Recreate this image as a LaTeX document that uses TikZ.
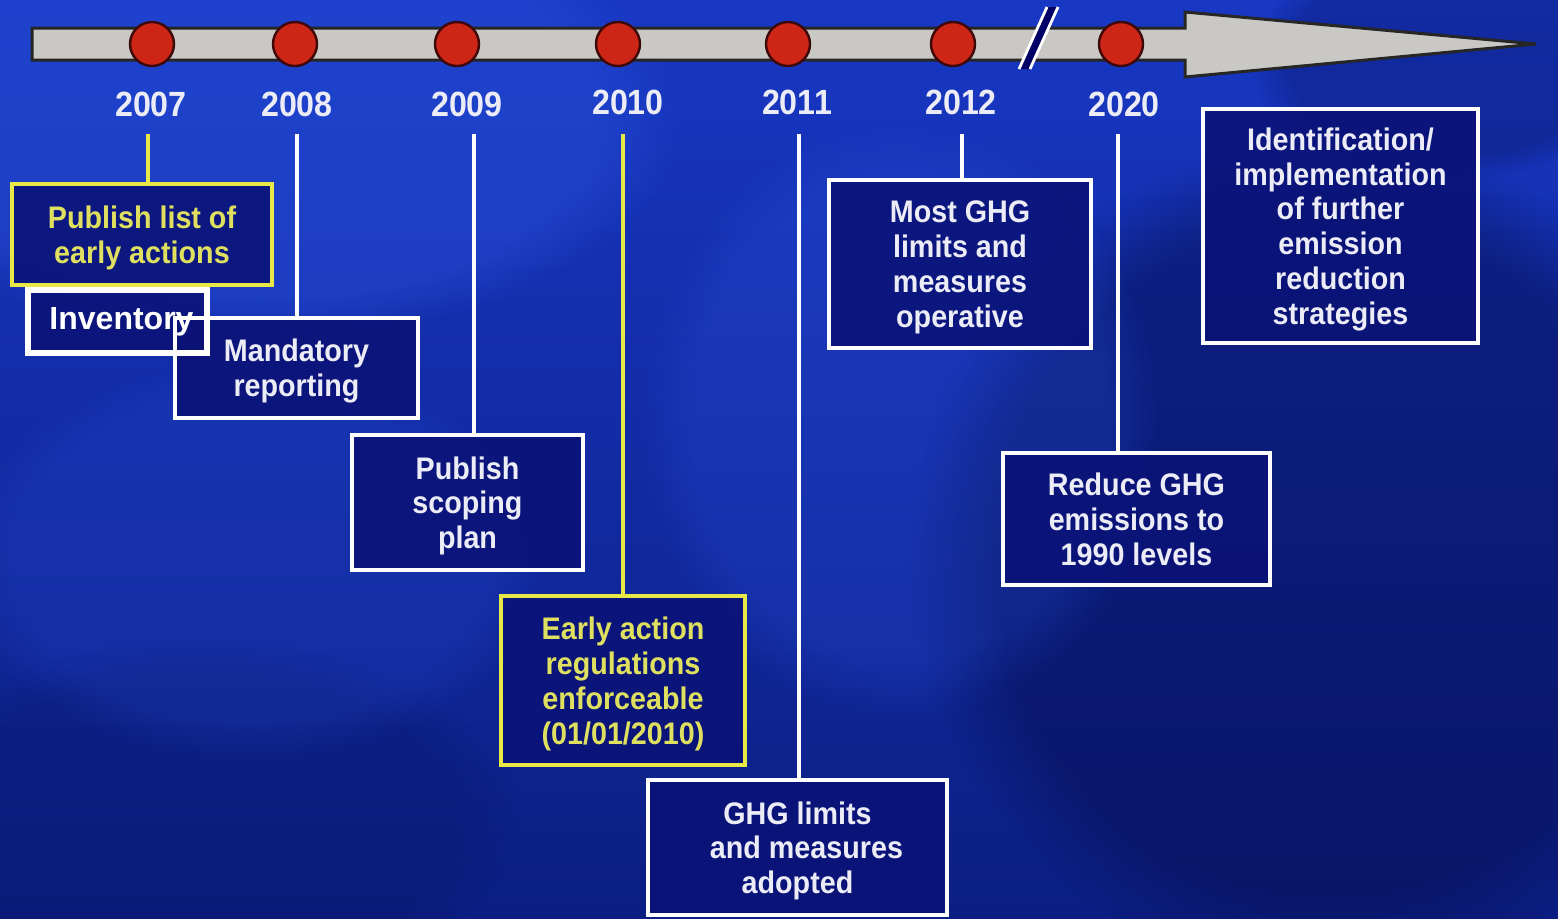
\documentclass[tikz,border=0pt]{standalone}
\usepackage{fontspec}
\setmainfont{Liberation Sans}
\newfontfamily\boxfont{Liberation Sans}[FakeStretch=0.92]
\usetikzlibrary{fadings}
\definecolor{bgA}{RGB}{24,56,196}
\definecolor{bgB}{RGB}{12,30,130}
\definecolor{bgDark}{RGB}{6,14,80}
\definecolor{bgLight}{RGB}{40,80,220}
\definecolor{boxfill}{RGB}{10,18,118}
\definecolor{barfill}{RGB}{202,200,196}
\definecolor{dotred}{RGB}{205,38,22}
\definecolor{dotedge}{RGB}{60,8,8}
\definecolor{ylw}{RGB}{232,232,70}
\definecolor{ytext}{RGB}{224,224,96}
\definecolor{wtext}{RGB}{236,236,246}
\begin{document}
\begin{tikzpicture}[x=0.5pt,y=-0.5pt,
  year/.style={text=wtext,font=\boxfont\fontsize{17.5}{19}\selectfont\bfseries,inner sep=0pt},
  dot/.style={circle,fill=dotred,draw=dotedge,line width=1.2pt,minimum size=22pt,inner sep=0pt},
  wbox/.style={rectangle,draw=white,line width=2pt,fill=boxfill,fill opacity=0.88,text opacity=1,
    text=wtext,align=center,inner sep=0pt,text depth=0pt,font=\boxfont\fontsize{15.6}{17.4}\selectfont\bfseries},
  ybox/.style={wbox,draw=ylw,text=ytext},
  wlink/.style={draw=white,line width=1.6pt},
  ylink/.style={draw=ylw,line width=1.8pt},
  blob/.style={path fading=circle with fuzzy edge 20 percent}
]
\useasboundingbox (0,0) rectangle (1558,918);
% background
\shade[top color=bgA,bottom color=bgB] (0,0) rectangle (1558,918);
\fill[bgLight,opacity=0.45,blob] (260,120) ellipse (420 and 220);
\fill[bgDark,opacity=0.5,blob] (1330,560) ellipse (420 and 420);
\fill[bgDark,opacity=0.2,blob] (200,820) ellipse (320 and 180);
\fill[bgLight,opacity=0.25,blob] (900,420) ellipse (260 and 300);
\fill[bgLight,opacity=0.2,blob] (250,560) ellipse (300 and 200);
\fill[bgDark,opacity=0.30,blob] (1450,60) ellipse (200 and 120);

% timeline bar with arrow
\draw[fill=barfill,draw=black!85,line width=1.5pt,line join=miter]
  (32,28) -- (1185,28) -- (1185,12) -- (1536,44) -- (1185,77) -- (1185,60) -- (32,60) -- cycle;

% break mark
\fill[black!60!blue] (1019,69) -- (1030,69) -- (1058,7) -- (1047,7) -- cycle;
\draw[white,line width=1.4pt] (1019,69) -- (1047,7);
\draw[white,line width=1.4pt] (1030,69) -- (1058,7);

% dots
\node[dot] (c2007) at (152,44) {};
\node[dot] (c2008) at (295,44) {};
\node[dot] (c2009) at (457,44) {};
\node[dot] (c2010) at (618,44) {};
\node[dot] (c2011) at (788,44) {};
\node[dot] (c2012) at (953,44) {};
\node[dot] (c2020) at (1121,44) {};

% year labels
\node[year] (y2007) at (151,104) {2007};
\node[year] (y2008) at (297,104) {2008};
\node[year] (y2009) at (467,104) {2009};
\node[year] (y2010) at (628,102) {2010};
\node[year] (y2011) at (797,102) {2011};
\node[year] (y2012) at (961,102) {2012};
\node[year] (y2020) at (1124,104) {2020};

% boxes (positions)
\coordinate (p1) at (142,234.5);
\coordinate (pinv) at (117.5,321.5);
\coordinate (p2) at (296.5,368);
\coordinate (p3) at (467.5,502.5);
\coordinate (p4) at (623,680.5);
\coordinate (p5) at (797.5,847.5);
\coordinate (p6) at (960,264);
\coordinate (p7) at (1136.5,519);
\coordinate (p8) at (1340.5,226);

% connector tops
\coordinate (t2007) at (148,134);
\coordinate (t2008) at (297,134);
\coordinate (t2009) at (474,134);
\coordinate (t2010) at (623,134);
\coordinate (t2011) at (799,134);
\coordinate (t2012) at (962,134);
\coordinate (t2020) at (1118,134);

% boxes
\node[wbox,draw=none,minimum width=89.5pt,minimum height=31.5pt] (invfill) at (pinv) {};
\node[ybox,minimum width=130pt,minimum height=50.5pt] (b1) at (p1) {Publish list of\\early actions};
\node[wbox,minimum width=121.5pt,minimum height=50pt] (b2) at (p2) {Mandatory\\reporting};
\node[wbox,minimum width=115.5pt,minimum height=67.5pt] (b3) at (p3) {Publish\\scoping\\plan};
\node[ybox,minimum width=122pt,minimum height=84.5pt] (b4) at (p4) {Early action\\regulations\\enforceable\\(01/01/2010)};
\node[wbox,minimum width=149.5pt,minimum height=67.5pt] (b5) at (p5) {GHG limits\\\hspace*{9pt}and measures\\adopted};
\node[wbox,minimum width=131pt,minimum height=84pt] (b6) at (p6) {Most GHG\\limits and\\measures\\operative};
\node[wbox,minimum width=133.5pt,minimum height=66pt] (b7) at (p7) {Reduce GHG\\emissions to\\1990 levels};
\node[wbox,minimum width=137.5pt,minimum height=117pt] (b8) at (p8) {Identification/\\implementation\\of further\\emission\\reduction\\strategies};
\node[draw=white,line width=2.75pt,minimum width=89.5pt,minimum height=31.5pt,inner sep=0pt,
  text=white,font=\fontsize{16}{18}\selectfont\bfseries] (inv) at (pinv) {\hspace*{4pt}Inventory};

% connectors
\draw[ylink] (t2007) -- (t2007 |- b1.north);
\draw[wlink] (t2008) -- (t2008 |- b2.north);
\draw[wlink] (t2009) -- (t2009 |- b3.north);
\draw[ylink] (t2010) -- (t2010 |- b4.north);
\draw[wlink] (t2011) -- (t2011 |- b5.north);
\draw[wlink] (t2012) -- (t2012 |- b6.north);
\draw[wlink] (t2020) -- (t2020 |- b7.north);
\end{tikzpicture}
\end{document}
